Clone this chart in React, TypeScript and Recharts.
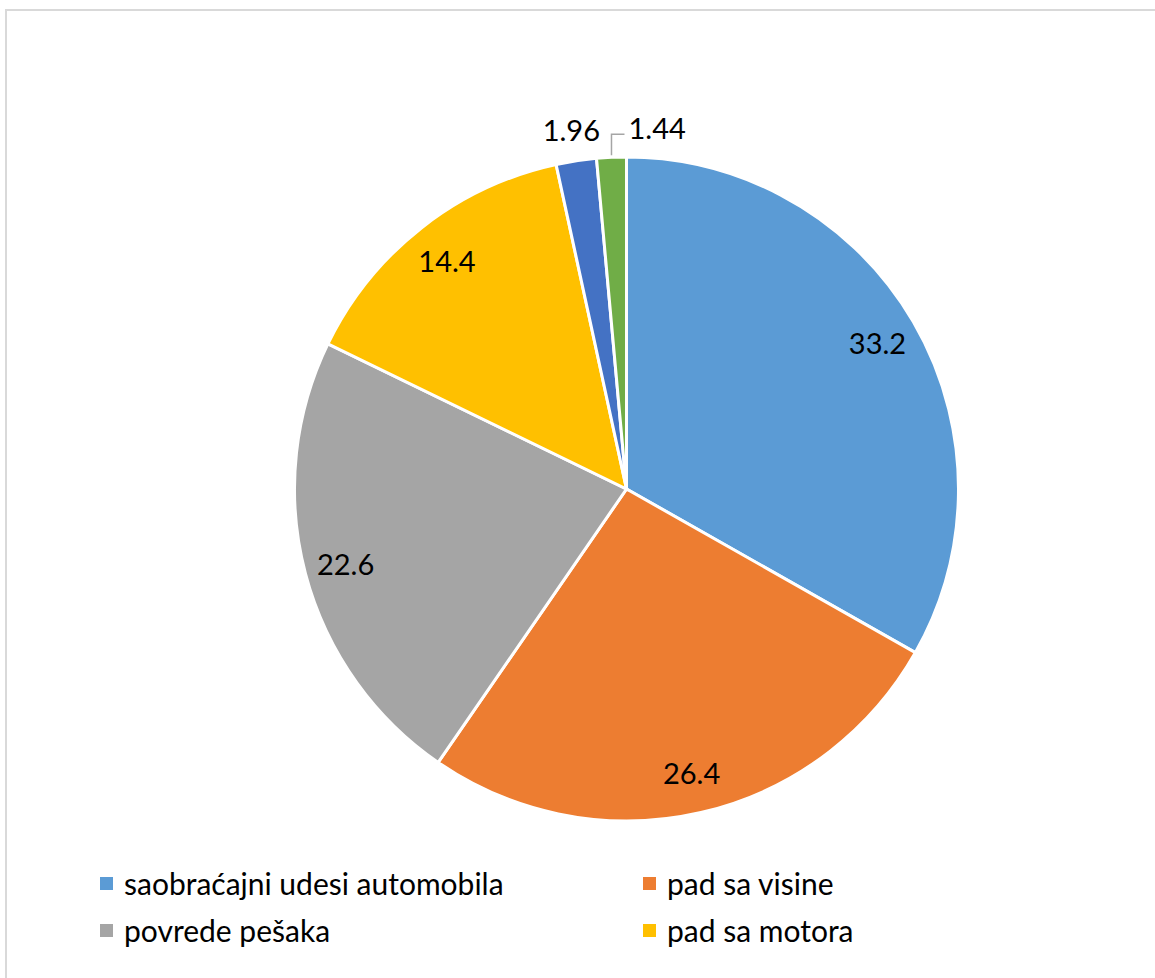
import { PieChart, Pie, Cell, Legend } from 'recharts'

const categories = [
  'saobraćajni udesi automobila',
  'pad sa visine',
  'povrede pešaka',
  'pad sa motora',
  'pad sa bicikla',
  'ostalo',
]
const values = [33.2, 26.4, 22.6, 14.4, 1.96, 1.44]
const colors = ['#5B9BD5', '#ED7D31', '#A5A5A5', '#FFC000', '#4472C4', '#70AD47']
// only the first rows of the legend are visible in the original
const visibleLegend = 4

const data = categories.map((name, i) => ({ name, value: values[i] }))

const RAD = Math.PI / 180
const FONT = 'Lato, "Open Sans", sans-serif'

const renderLabel = (props: any) => {
  const { cx, cy, midAngle, outerRadius, value, index } = props
  const cos = Math.cos(-midAngle * RAD)
  const sin = Math.sin(-midAngle * RAD)
  if (index < 5) {
    const r = index < 4 ? outerRadius * 0.875 : outerRadius + 32
    return (
      <text
        x={cx + r * cos}
        y={cy + r * sin}
        textAnchor="middle"
        dominantBaseline="central"
        fontSize={29}
        fontFamily={FONT}
        fill="#000"
      >
        {value}
      </text>
    )
  }
  const ex = cx + outerRadius * cos
  const ey = cy + outerRadius * sin
  return (
    <g>
      <polyline
        points={`${ex},${ey - 2} ${ex},${ey - 23} ${ex + 13},${ey - 23}`}
        fill="none"
        stroke="#A5A5A5"
        strokeWidth={1.5}
      />
      <text
        x={ex + 17}
        y={ey - 30}
        textAnchor="start"
        dominantBaseline="central"
        fontSize={29}
        fontFamily={FONT}
        fill="#000"
      >
        {value}
      </text>
    </g>
  )
}

const renderLegend = () => (
  <div
    style={{
      display: 'grid',
      gridTemplateColumns: '543px 300px',
      rowGap: 17,
      fontFamily: FONT,
      fontSize: 30,
      color: '#000',
    }}
  >
    {categories.slice(0, visibleLegend).map((name, i) => (
      <div key={name} style={{ display: 'flex', alignItems: 'center', height: 30 }}>
        <span
          style={{
            width: 13,
            height: 13,
            background: colors[i],
            marginRight: 11,
            display: 'inline-block',
            flex: 'none',
          }}
        />
        <span>{name}</span>
      </div>
    ))}
  </div>
)

export default function App() {
  return (
    <div
      style={{
        position: 'fixed',
        left: 0,
        top: 0,
        width: 1155,
        height: 978,
        overflow: 'hidden',
        background: '#fff',
      }}
    >
      <PieChart
        width={1155}
        height={978}
        margin={{ top: 0, right: 0, bottom: 0, left: 0 }}
      >
        <Pie
          data={data}
          dataKey="value"
          nameKey="name"
          cx={626.5}
          cy={489}
          outerRadius={332}
          startAngle={90}
          endAngle={-270}
          stroke="#fff"
          strokeWidth={3}
          label={renderLabel}
          labelLine={false}
          isAnimationActive={false}
        >
          {data.map((d, i) => (
            <Cell key={d.name} fill={colors[i]} />
          ))}
        </Pie>
        <Legend
          content={renderLegend}
          wrapperStyle={{ position: 'absolute', left: 100, top: 868, width: 900 }}
        />
      </PieChart>
      <div
        style={{
          position: 'absolute',
          left: 5,
          top: 9,
          width: 1200,
          height: 1100,
          borderLeft: '2px solid #D9D9D9',
          borderTop: '2px solid #D9D9D9',
          pointerEvents: 'none',
          zIndex: 2,
        }}
      />
    </div>
  )
}
